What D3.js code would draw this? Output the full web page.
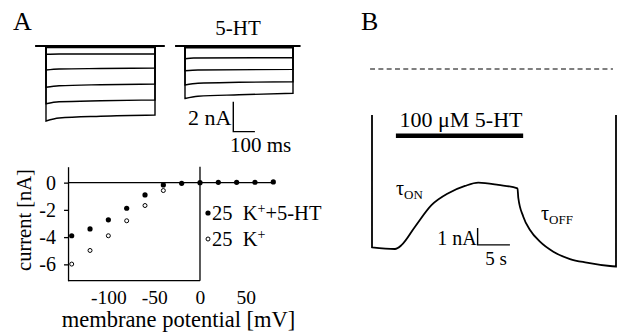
<!DOCTYPE html>
<html>
<head>
<meta charset="utf-8">
<script src="https://cdn.jsdelivr.net/npm/d3@7"></script>
<style>
  body { margin: 0; background: #fff; }
  svg { display: block; }
  svg text { font-family: "Liberation Serif", "Times New Roman", serif; }
</style>
</head>
<body>
<div id="chart"></div>
<script>
// panel A, top: voltage step currents [ms, nA]
const ctrlTraces = [
  [[0, -0.1], [500, -0.1]],
  [[0, -0.55], [60, -0.53], [500, -0.53]],
  [[0, -1.6], [60, -1.53], [250, -1.5], [500, -1.47]],
  [[0, -2.75], [60, -2.65], [250, -2.58], [500, -2.54]],
  [[0, -3.85], [60, -3.72], [250, -3.65], [500, -3.6]],
  [[0, -5.0], [60, -4.8], [250, -4.68], [500, -4.6]]
]
const htTraces = [
  [[0, -0.12], [500, -0.12]],
  [[0, -0.85], [40, -0.8], [500, -0.78]],
  [[0, -1.65], [60, -1.6], [500, -1.56]],
  [[0, -2.6], [60, -2.48], [250, -2.42], [500, -2.38]],
  [[0, -3.5], [60, -3.35], [250, -3.25], [500, -3.15]]
]

// panel A, bottom: I-V
const ivVoltage = [-140, -120, -100, -80, -60, -40, -20, 0, 20, 40, 60, 80]
const ivHT = [-3.9, -3.4, -2.73, -1.88, -0.9, -0.17, -0.05, 0, 0.02, 0.02, 0.03, 0.05]
const ivCtrl = [-5.98, -4.98, -3.9, -2.8, -1.68, -0.58, null, null, null, null, null, null]
const ivXTicks = [-100, -50, 0, 50]
const ivYTicks = [0, -2, -4, -6]

// panel B: current trace [s, nA]
const bTime = [0, 3.56, 4.6, 6.66, 9.24, 11.81, 14.4, 16.45, 19.55, 22.52, 22.65, 23.42, 24.46, 26.0, 28.07, 30.65, 33.24, 36.84, 37.77]
const bCurrent = [-10.49, -10.59, -10.35, -9.28, -8.0, -7.31, -6.88, -6.69, -6.82, -7.02, -7.59, -8.69, -9.47, -10.16, -10.75, -11.18, -11.39, -11.59, -11.62]
const bArtifact = -2.71
const htApplied = [3.7, 23.4]

var width = 618, height = 335

var svg = d3.select('#chart').append('svg')
  .attr('width', width)
  .attr('height', height)

svg.append('rect').attr('width', width).attr('height', height).attr('fill', '#fff')

// ---------- A: traces ----------
var yA = d3.scaleLinear().domain([0, -5]).range([46, 121])
var xL = d3.scaleLinear().domain([0, 500]).range([46, 155])
var xR = d3.scaleLinear().domain([0, 500]).range([185, 293])

let drawTraces = (traces, x, from, to) => {
  svg.append('line')
    .attr('x1', x(from)).attr('x2', x(to))
    .attr('y1', yA(0)).attr('y2', yA(0))
    .attr('stroke', '#000').attr('stroke-width', 1.8)
  let line = d3.line()
    .x(d => x(d[0]))
    .y(d => yA(d[1]))
    .curve(d3.curveMonotoneX)
  traces.forEach(tr => {
    let d = 'M' + x(0) + ',' + yA(0) + 'L' + line(tr).slice(1) + 'L' + x(500) + ',' + yA(0)
    svg.append('path')
      .attr('d', d)
      .attr('fill', 'none')
      .attr('stroke', '#000')
      .attr('stroke-width', 1.4)
  })
}
drawTraces(ctrlTraces, xL, -50, 545)
drawTraces(htTraces, xR, -46, 535)

svg.append('text').attr('x', 13).attr('y', 30).attr('font-size', 26).text('A')
svg.append('text').attr('x', 238).attr('y', 35).attr('font-size', 21)
  .attr('text-anchor', 'middle').text('5-HT')

// scale bar 2 nA / 100 ms
var sbT = 223.6, sbI = -5.71
svg.append('path')
  .attr('d', 'M' + xR(sbT) + ',' + yA(sbI + 2) + 'V' + yA(sbI) + 'H' + xR(sbT + 100))
  .attr('fill', 'none').attr('stroke', '#000').attr('stroke-width', 1.4)
svg.append('text').attr('x', xR(sbT) - 2).attr('y', 125).attr('font-size', 22)
  .attr('text-anchor', 'end').text('2 nA')
svg.append('text').attr('x', 230).attr('y', 151.7).attr('font-size', 21).text('100 ms')

// ---------- A: I-V ----------
var xIV = d3.scaleLinear().domain([-140, 80]).range([71.7, 273.3])
var yIV = d3.scaleLinear().domain([1.17, -7.2]).range([166.7, 280.7])

var yAxis = d3.axisLeft(yIV)
  .tickValues(ivYTicks)
  .tickSizeInner(4)
  .tickSizeOuter(0)
  .tickPadding(8)
  .tickFormat(d => d === 0 ? '0' : '-' + Math.abs(d))

svg.append('g')
  .attr('class', 'y axis')
  .attr('transform', 'translate(' + xIV(-144) + ',0)')
  .call(yAxis)
  .attr('font-size', 20)
  .call(g => g.selectAll('path, line').attr('stroke-width', 1.3))

var xAxis = d3.axisBottom(xIV)
  .tickValues(ivXTicks)
  .tickSize(0)
  .tickPadding(9.5)
  .tickFormat(d => d < 0 ? '-' + Math.abs(d) : d)

svg.append('g')
  .attr('class', 'x axis')
  .attr('transform', 'translate(0,' + yIV(-7.2) + ')')
  .call(xAxis)
  .attr('font-size', 19.5)
  .call(g => g.select('.domain').remove())

// bottom frame, zero lines
svg.append('line')
  .attr('x1', xIV(-144)).attr('x2', xIV(0))
  .attr('y1', yIV(-7.2)).attr('y2', yIV(-7.2))
  .attr('stroke', '#000').attr('stroke-width', 1.3)
svg.append('line')
  .attr('x1', xIV(-144)).attr('x2', xIV(82))
  .attr('y1', yIV(0)).attr('y2', yIV(0))
  .attr('stroke', '#000').attr('stroke-width', 1.3)
svg.append('line')
  .attr('x1', xIV(0)).attr('x2', xIV(0))
  .attr('y1', yIV(1.17)).attr('y2', yIV(-7.2))
  .attr('stroke', '#000').attr('stroke-width', 1.3)

svg.selectAll('.ctrl')
  .data(ivVoltage.map((v, i) => [v, ivCtrl[i]]).filter(d => d[1] !== null))
  .enter().append('circle')
  .attr('class', 'ctrl')
  .attr('cx', d => xIV(d[0]))
  .attr('cy', d => yIV(d[1]))
  .attr('r', 2)
  .attr('fill', '#fff')
  .attr('stroke', '#000')
  .attr('stroke-width', 1)

svg.selectAll('.ht')
  .data(ivVoltage.map((v, i) => [v, ivHT[i]]))
  .enter().append('circle')
  .attr('class', 'ht')
  .attr('cx', d => xIV(d[0]))
  .attr('cy', d => yIV(d[1]))
  .attr('r', 2.6)
  .attr('fill', '#000')

svg.append('text')
  .attr('transform', 'translate(31,220) rotate(-90)')
  .attr('text-anchor', 'middle')
  .attr('font-size', 20.5)
  .text('current [nA]')
svg.append('text')
  .attr('x', 178.5).attr('y', 326.5)
  .attr('text-anchor', 'middle')
  .attr('font-size', 22.5)
  .text('membrane potential [mV]')

// legend
let legend = [
  { y: 213, fill: '#000', r: 2.6, label: '+5-HT' },
  { y: 239, fill: '#fff', r: 2, label: '' }
]
legend.forEach(l => {
  svg.append('circle')
    .attr('cx', 208).attr('cy', l.y)
    .attr('r', l.r).attr('fill', l.fill)
    .attr('stroke', '#000').attr('stroke-width', l.fill === '#fff' ? 1 : 0)
  let t = svg.append('text').attr('x', 212).attr('y', l.y + 7).attr('font-size', 20.5)
  t.append('tspan').text('25\u00a0 K')
  t.append('tspan').attr('font-size', 14).attr('dy', -7).text('+')
  t.append('tspan').attr('dy', 7).text(l.label)
})

// ---------- B ----------
var xB = d3.scaleLinear().domain([0, 37.77]).range([372, 616])
var yB = d3.scaleLinear().domain([0, -11.62]).range([69, 266.5])

svg.append('text').attr('x', 361).attr('y', 30).attr('font-size', 26).text('B')

svg.append('line')
  .attr('x1', xB(-0.3)).attr('x2', xB(37.3))
  .attr('y1', yB(0)).attr('y2', yB(0))
  .attr('stroke', '#000').attr('stroke-width', 1.1)
  .attr('stroke-dasharray', '5,3.3')

let bLine = d3.line()
  .x(d => xB(d[0]))
  .y(d => yB(d[1]))
  .curve(d3.curveMonotoneX)
let bPts = bTime.map((t, i) => [t, bCurrent[i]])
let bPath = 'M' + xB(0) + ',' + yB(bArtifact) + 'L' + bLine(bPts).slice(1) +
  'L' + xB(bTime[bTime.length - 1]) + ',' + yB(bArtifact)
svg.append('path')
  .attr('d', bPath)
  .attr('fill', 'none')
  .attr('stroke', '#000')
  .attr('stroke-width', 1.8)

// application bar
svg.append('rect')
  .attr('x', xB(htApplied[0]))
  .attr('width', xB(htApplied[1]) - xB(htApplied[0]))
  .attr('y', 133.5).attr('height', 4.5)
  .attr('fill', '#000')
svg.append('text').attr('x', 461).attr('y', 126.7).attr('font-size', 22)
  .attr('text-anchor', 'middle').text('100 \u03bcM 5-HT')

// tau labels
let tau = (x, y, sub) => {
  let t = svg.append('text').attr('x', x).attr('y', y).attr('font-size', 20)
  t.append('tspan').text('\u03c4')
  t.append('tspan').attr('font-size', 13).attr('dy', 4).text(sub)
}
tau(396, 195, 'ON')
tau(541, 220, 'OFF')

// scale bar 1 nA / 5 s
var bsT = 16.35, bsI = -10.35
svg.append('path')
  .attr('d', 'M' + xB(bsT) + ',' + yB(bsI + 1) + 'V' + yB(bsI) + 'H' + xB(bsT + 5))
  .attr('fill', 'none').attr('stroke', '#000').attr('stroke-width', 1.4)
svg.append('text').attr('x', xB(bsT) - 1).attr('y', 245).attr('font-size', 20)
  .attr('text-anchor', 'end').text('1 nA')
svg.append('text').attr('x', 496).attr('y', 265).attr('font-size', 19)
  .attr('text-anchor', 'middle').text('5 s')
</script>
</body>
</html>
